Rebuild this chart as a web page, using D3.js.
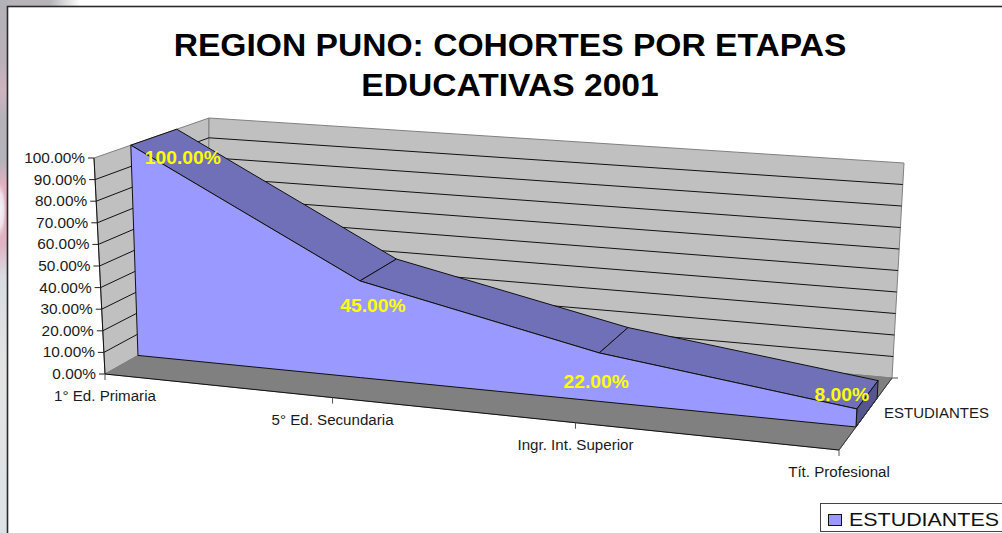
<!DOCTYPE html>
<html>
<head>
  <meta charset="utf-8">
  <title>Region Puno</title>
  <style>
    html, body { margin: 0; padding: 0; background: white; }
    svg { display: block; font-family: "Liberation Sans", Arial, sans-serif; }
    .tick-label { font-size: 14px; fill: #1a1a1a; }
    .value-label { font-size: 18px; font-weight: bold; fill: #ffff00; text-anchor: middle; }
    .title { font-size: 32px; font-weight: bold; fill: black; text-anchor: middle; }
  </style>
</head>
<body>
  <div id="chart"></div>

  <script src="https://d3js.org/d3.v7.min.js"></script>
  <script>
    const titleLines = ["REGION PUNO: COHORTES POR ETAPAS", "EDUCATIVAS 2001"];
    const categories = ["1° Ed. Primaria", "5° Ed. Secundaria", "Ingr. Int. Superior", "Tít. Profesional"];
    const values = [100, 45, 22, 8];
    const valueTicks = [0, 10, 20, 30, 40, 50, 60, 70, 80, 90, 100];
    const seriesName = "ESTUDIANTES";

    const width = 1002, height = 533;

    // corners of the 3D box on the page
    const box = {
      frontLeftBottom: [105, 374], frontLeftTop: [94, 158],
      frontRightBottom: [839, 450], frontRightTop: [850, 220],
      backLeftBottom: [208, 316], backLeftTop: [209, 118],
      backRightBottom: [892, 378], backRightTop: [904, 163]
    };
    const seriesFront = 0.32, seriesBack = 0.72;

    const catScale = d3.scaleLinear().domain([0, 1, 2, 3]).range([0, 0.31, 0.641, 1]);
    const valScale = d3.scaleLinear().domain([0, 100]).range([0, 1]);

    function mix(a, b, t) {
      return [a[0] + (b[0] - a[0]) * t, a[1] + (b[1] - a[1]) * t];
    }

    // category index, value, depth (0 front, 1 back) to page coordinates
    function project(c, v, depth) {
      const cx = catScale(c), vy = valScale(v);
      const left = mix(mix(box.frontLeftBottom, box.frontLeftTop, vy), mix(box.backLeftBottom, box.backLeftTop, vy), depth);
      const right = mix(mix(box.frontRightBottom, box.frontRightTop, vy), mix(box.backRightBottom, box.backRightTop, vy), depth);
      return mix(left, right, cx);
    }

    // the original text is a bit wider than the font
    function stretch(sel, k) {
      sel.attr("textLength", sel.node().getComputedTextLength() * k)
        .attr("lengthAdjust", "spacingAndGlyphs");
      return sel;
    }

    const svg = d3.select("#chart").append("svg")
      .attr("width", width)
      .attr("height", height);

    const defs = svg.append("defs");
    const leftGrad = defs.append("linearGradient").attr("id", "leftStrip")
      .attr("x1", 0).attr("y1", 0).attr("x2", 0).attr("y2", 1);
    [[0, "#b2b2b8"], [0.12, "#bcb0b8"], [0.17, "#ceb4c0"], [0.22, "#b6b2ba"], [0.3, "#b4b2ba"], [0.35, "#e4b0c0"],
      [0.46, "#e0b4c4"], [0.52, "#d8dce2"], [0.7, "#e4e4e4"], [1, "#dde2e6"]]
      .forEach(s => leftGrad.append("stop").attr("offset", s[0]).attr("stop-color", s[1]));
    const topGrad = defs.append("linearGradient").attr("id", "topStrip");
    [[0, "#b6b4b8"], [0.25, "#b6b4b8"], [0.4, "#ffffff"]]
      .forEach(s => topGrad.append("stop").attr("offset", s[0]).attr("stop-color", s[1]));
    const blob = defs.append("radialGradient").attr("id", "stripBlob");
    [[0, "#f4f4fa", 1], [0.6, "#f0e8f0", 0.9], [1, "#f0d0dc", 0]]
      .forEach(s => blob.append("stop").attr("offset", s[0]).attr("stop-color", s[1]).attr("stop-opacity", s[2]));

    // picture behind the chart frame
    svg.append("rect").attr("width", 200).attr("height", 6).attr("fill", "url(#topStrip)");
    svg.append("rect").attr("width", 7).attr("height", height).attr("fill", "url(#leftStrip)");
    svg.append("ellipse").attr("cx", 0).attr("cy", 210).attr("rx", 6).attr("ry", 28).attr("fill", "url(#stripBlob)");
    svg.append("rect").attr("x", 7.5).attr("y", 6.5).attr("width", width).attr("height", height)
      .attr("fill", "white").attr("stroke", "#2a2a2a").attr("stroke-width", 1.6);

    titleLines.forEach((t, i) => {
      stretch(svg.append("text").attr("class", "title").attr("x", 510).attr("y", 56 + i * 40).text(t), 1.05);
    });

    const line = d3.line();
    function poly(points, fill, stroke, sw) {
      return svg.append("path")
        .attr("d", line(points) + "Z")
        .attr("fill", fill)
        .attr("stroke", stroke)
        .attr("stroke-width", sw || 1)
        .attr("stroke-linejoin", "round");
    }
    function seg(a, b, stroke, sw) {
      svg.append("line")
        .attr("x1", a[0]).attr("y1", a[1]).attr("x2", b[0]).attr("y2", b[1])
        .attr("stroke", stroke).attr("stroke-width", sw || 1);
    }

    const lastCat = categories.length - 1;

    // walls and floor
    poly([project(0, 0, 0), project(0, 100, 0), project(0, 100, 1), project(0, 0, 1)], "#c0c0c0", "#808080");
    poly([project(0, 0, 1), project(0, 100, 1), project(lastCat, 100, 1), project(lastCat, 0, 1)], "#c0c0c0", "#808080");
    poly([project(0, 0, 0), project(0, 0, 1), project(lastCat, 0, 1), project(lastCat, 0, 0)], "#808080", "#808080");

    // grid lines
    valueTicks.filter(v => v > 0 && v < 100).forEach(v => {
      seg(project(0, v, 0), project(0, v, 1), "#111");
      seg(project(0, v, 1), project(lastCat, v, 1), "#111");
    });

    // area body: front face, top faces, end face
    const front = values.map((v, i) => project(i, v, seriesFront));
    const baseFront = values.map((v, i) => project(i, 0, seriesFront));
    const back = values.map((v, i) => project(i, v, seriesBack));
    const baseBack = project(lastCat, 0, seriesBack);

    d3.pairs(d3.range(values.length)).forEach(([a, b]) => {
      poly([front[a], back[a], back[b], front[b]], "#7070b8", "#111");
    });
    poly([front[lastCat], back[lastCat], baseBack, baseFront[lastCat]], "#55558f", "#111");
    poly(front.concat(baseFront.slice().reverse()), "#9999ff", "#111");

    // axes
    seg(project(0, 0, 0), project(0, 100, 0), "#111");
    seg(project(0, 0, 0), project(lastCat, 0, 0), "#111");
    seg(project(lastCat, 0, 0), project(lastCat, 0, 1), "#333");

    valueTicks.forEach(v => {
      const p = project(0, v, 0);
      seg([p[0] - 6, p[1]], p, "#222");
      stretch(svg.append("text").attr("class", "tick-label")
        .attr("x", p[0] - 9).attr("y", p[1] + 5)
        .attr("text-anchor", "end")
        .text(d3.format(".2f")(v) + "%"), 1.1);
    });

    categories.forEach((c, i) => {
      const p = project(i, 0, 0);
      seg(p, [p[0], p[1] + 6], "#555");
      stretch(svg.append("text").attr("class", "tick-label")
        .attr("x", p[0]).attr("y", p[1] + 27)
        .attr("text-anchor", "middle")
        .text(c), 1.08);
    });

    // series name on the depth axis
    const depthEnd = project(lastCat, 0, 1);
    seg(depthEnd, [depthEnd[0] + 6, depthEnd[1]], "#555");
    stretch(svg.append("text").attr("class", "tick-label")
      .attr("x", 884).attr("y", 418)
      .text(seriesName), 1.07);

    // value labels, Excel puts them off the ridge
    const labelOffsets = [[52, 19], [13, 31], [-3, 35], [-15, -8]];
    values.forEach((v, i) => {
      stretch(svg.append("text").attr("class", "value-label")
        .attr("x", front[i][0] + labelOffsets[i][0])
        .attr("y", front[i][1] + labelOffsets[i][1])
        .text(d3.format(".2f")(v) + "%"), 1.07);
    });

    // legend
    svg.append("rect").attr("x", 820.5).attr("y", 503.5).attr("width", 190).attr("height", 28)
      .attr("fill", "white").attr("stroke", "#444");
    svg.append("rect").attr("x", 828.5).attr("y", 514.5).attr("width", 13).attr("height", 11)
      .attr("fill", "#9999ff").attr("stroke", "#111");
    svg.append("text").attr("x", 849).attr("y", 526)
      .attr("font-size", 19).attr("fill", "#111")
      .attr("textLength", 150).attr("lengthAdjust", "spacingAndGlyphs")
      .text(seriesName);
  </script>
</body>
</html>
